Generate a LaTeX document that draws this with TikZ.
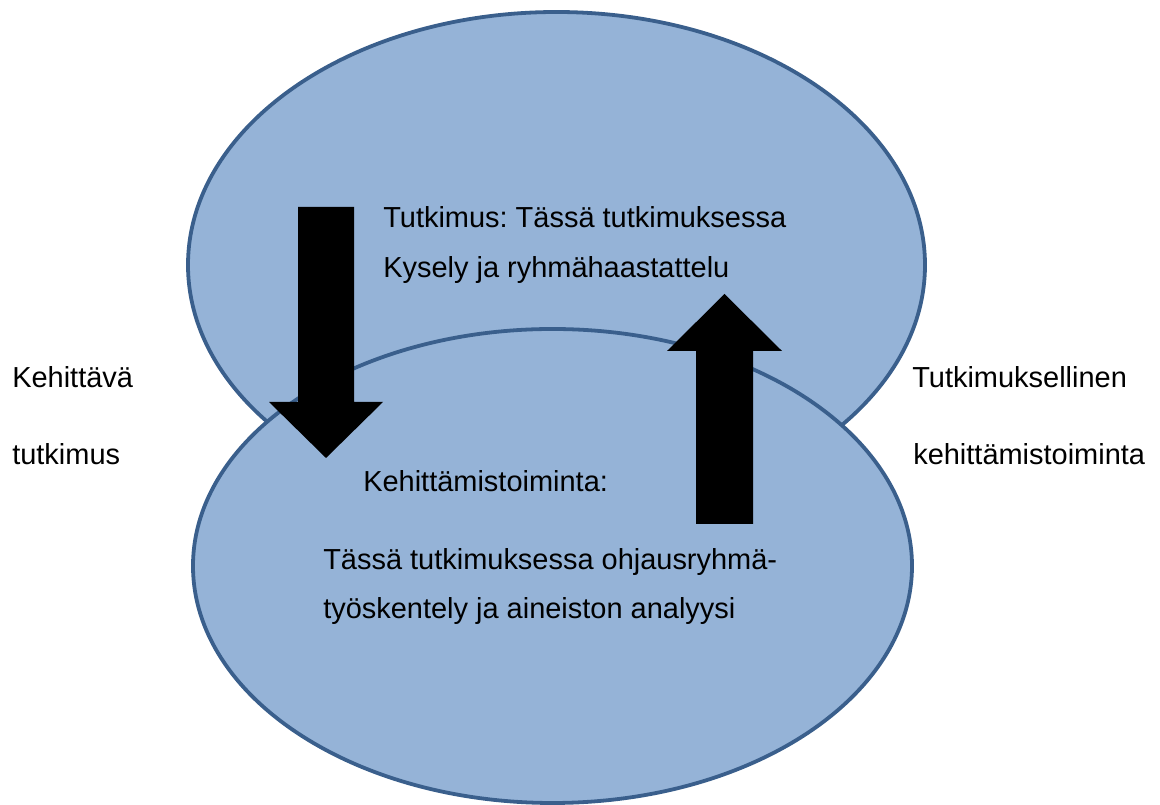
\documentclass[tikz,border=0pt]{standalone}
\usepackage{fontspec}
\setmainfont{Liberation Sans}
\frenchspacing
\definecolor{bubblefill}{HTML}{95B3D7}
\definecolor{bubbleline}{HTML}{3A5F8C}
\begin{document}
\begin{tikzpicture}[
    bubble/.style={fill=bubblefill, draw=bubbleline, line width=2.7pt},
    txt/.style={anchor=base west, inner sep=0pt, font=\fontsize{20.6}{24}\selectfont}
  ]

    \useasboundingbox (0,0) rectangle (29,20.125);

    \draw[bubble] (13.9125,13.5) ellipse [x radius=9.2125, y radius=6.325];
    \draw[bubble] (13.8125,5.975) ellipse [x radius=8.9875, y radius=5.925];

    % down arrow
    \fill (7.45,14.95) -- (8.85,14.95) -- (8.85,10.075) -- (9.575,10.075)
          -- (8.15,8.675) -- (6.725,10.075) -- (7.45,10.075) -- cycle;

    % up arrow
    \fill (17.4,7.025) -- (18.825,7.025) -- (18.825,11.35) -- (19.55,11.35)
          -- (18.1125,12.775) -- (16.675,11.35) -- (17.4,11.35) -- cycle;

    \node[txt] (tutk1) at (9.575,14.425) {Tutkimus: Tässä tutkimuksessa};
    \node[txt] (tutk2) at (9.575,13.175) {Kysely ja ryhmähaastattelu};

    \node[txt] (keh1) at (9.075,7.825) {Kehittämistoiminta:};
    \node[txt] (keh2) at (8.075,5.875) {Tässä tutkimuksessa ohjausryhmä-};
    \node[txt] (keh3) at (8.075,4.65) {työskentely ja aineiston analyysi};

    \node[txt] (left1) at (0.3,10.425) {Kehittävä};
    \node[txt] (left2) at (0.3,8.5) {tutkimus};

    \node[txt] (right1) at (22.8,10.425) {Tutkimuksellinen};
    \node[txt] (right2) at (22.825,8.5) {kehittämistoiminta};

\end{tikzpicture}
\end{document}
